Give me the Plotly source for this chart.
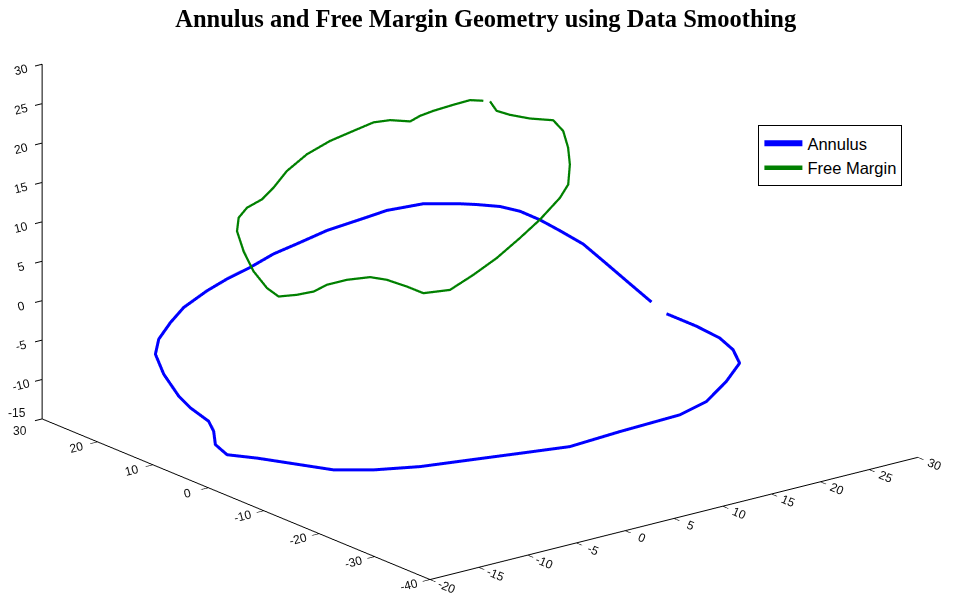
import plotly.graph_objects as go

# Annulus (open ends where the reference shows a gap)
annulus_x = [22.97, 23.39, 24.22, 25.03, 25.14, 24.63, 22.32, 19.41, 16.50, 10.94, 6.23, 2.14, -1.95, -6.05,
             -9.66, -12.54, -15.18, -17.21, -19.12, -19.22, -18.36, -17.99, -18.32, -18.30, -17.78, -16.91,
             -15.56, -13.49, -11.43, -8.51, -6.20, -3.67, -1.00, 1.42, 4.57, 8.43, 10.37, 13.50, 16.14, 17.29,
             18.83, 19.92, 20.73, 21.38, 22.08, 22.28, 22.50, 22.75]
annulus_y = [-7.01, -8.07, -10.21, -12.97, -15.19, -17.29, -18.95, -20.49, -20.79, -19.76, -19.04, -17.25, -15.44,
             -13.64, -11.58, -9.45, -6.28, -3.86, -1.82, 0.11, 1.93, 3.49, 6.19, 8.34, 11.96, 15.00, 16.77, 18.30,
             19.54, 20.46, 20.92, 21.18, 21.68, 21.73, 21.86, 21.45, 21.26, 20.18, 18.22, 17.24, 15.74, 14.06,
             11.88, 9.42, 6.45, 3.21, -0.63, -4.69]
annulus_z = [-4.21, -4.55, -5.24, -6.18, -7.05, -7.99, -9.12, -10.31, -11.02, -11.72, -12.37, -12.47, -12.57,
             -12.67, -12.57, -12.29, -11.55, -10.98, -10.55, -9.80, -8.90, -8.20, -7.19, -6.33, -4.77, -3.38,
             -2.40, -1.38, -0.47, 0.48, 1.13, 1.74, 2.47, 2.98, 3.66, 4.27, 4.58, 4.77, 4.52, 4.35, 4.06, 3.61,
             2.90, 2.04, 0.99, -0.26, -1.75, -3.33]

# Free margin
margin_x = [14.25, 14.03, 14.70, 15.87, 17.43, 17.36, 16.49, 15.38, 13.79, 12.21, 9.16, 6.37, 3.22, 0.30, -2.49,
            -4.66, -5.36, -6.31, -7.32, -9.19, -11.00, -12.46, -13.90, -15.35, -15.57, -15.31, -14.56, -13.56,
            -12.45, -11.11, -9.42, -7.72, -5.53, -2.85, -0.19, 2.23, 4.29, 5.66, 7.01, 8.14, 9.47, 11.35,
            12.90, 13.81]
margin_y = [9.48, 7.90, 6.67, 5.13, 3.67, 1.75, -0.67, -2.94, -5.44, -6.73, -8.48, -9.79, -11.15, -12.07, -12.77,
            -11.78, -10.04, -8.10, -6.86, -5.97, -5.55, -5.71, -5.25, -4.49, -2.78, 0.09, 3.22, 6.17, 7.83, 8.68,
            8.96, 9.86, 11.30, 12.40, 12.89, 12.95, 12.97, 12.38, 11.14, 11.34, 11.28, 10.99, 10.71, 9.91]
margin_z = [20.64, 19.97, 19.61, 19.23, 18.95, 18.17, 17.03, 15.90, 14.58, 13.75, 12.44, 11.36, 10.19, 9.23, 8.39,
            8.36, 8.91, 9.50, 9.79, 9.77, 9.58, 9.22, 9.12, 9.13, 9.77, 10.97, 12.38, 13.76, 14.64, 15.25, 15.70,
            16.40, 17.42, 18.39, 19.12, 19.62, 20.05, 20.08, 19.86, 20.16, 20.40, 20.67, 20.86, 20.73]

x_ticks = [-20, -15, -10, -5, 0, 5, 10, 15, 20, 25, 30]
y_ticks = [-40, -30, -20, -10, 0, 10, 20, 30]
z_ticks = [-15, -10, -5, 0, 5, 10, 15, 20, 25, 30]

TICKFONT = dict(family="Liberation Sans, Arial", size=12, color="#111")

fig = go.Figure()
fig.add_trace(go.Scatter3d(x=annulus_x, y=annulus_y, z=annulus_z, mode="lines",
                           line=dict(color="rgb(0,0,255)", width=6), name="Annulus"))
fig.add_trace(go.Scatter3d(x=margin_x, y=margin_y, z=margin_z, mode="lines",
                           line=dict(color="rgb(0,128,0)", width=4.5), name="Free Margin"))

def axis(rng, ticks, hide=None):
    text = ["" if t == hide else str(t) for t in ticks]
    return dict(range=[rng[0], rng[1]], tickvals=ticks, ticktext=text,
                showbackground=False, showgrid=False, zeroline=False, showline=True,
                linecolor="black", linewidth=2, ticks="outside", ticklen=9, tickwidth=2,
                tickcolor="black", showspikes=False, title=dict(text=""), tickfont=TICKFONT)

# the two labels that meet at the left corner are placed apart, as in the reference
corner_labels = [
    dict(x=x_ticks[0], y=y_ticks[-1], z=z_ticks[0], text=str(z_ticks[0]), xshift=-25, yshift=6),
    dict(x=x_ticks[0], y=y_ticks[-1], z=z_ticks[0], text=str(y_ticks[-1]), xshift=-22, yshift=-12),
]
for a in corner_labels:
    a.update(showarrow=False, font=TICKFONT)

d = (-0.581, -0.747, 0.322)
k = 2.0
c = (0.0, 0.0, -0.135)
fig.update_layout(
    width=960, height=598, paper_bgcolor="white", plot_bgcolor="white",
    margin=dict(l=0, r=0, t=0, b=0),
    title=dict(text="<b>Annulus and Free Margin Geometry using Data Smoothing</b>",
               x=0.506, xanchor="center", y=0.97, yanchor="middle",
               font=dict(family="Liberation Serif, Times New Roman", size=24.5, color="black")),
    scene=dict(
        domain=dict(x=[0, 1], y=[0, 1]),
        xaxis=axis((-20, 30), x_ticks),
        yaxis=axis((-40, 30), y_ticks, hide=y_ticks[-1]),
        zaxis=axis((-15, 30), z_ticks, hide=z_ticks[0]),
        aspectmode="manual", aspectratio=dict(x=2.067, y=2.113, z=1.253),
        camera=dict(projection=dict(type="orthographic"),
                    eye=dict(x=c[0] + d[0] * k, y=c[1] + d[1] * k, z=c[2] + d[2] * k),
                    up=dict(x=0, y=0, z=1), center=dict(x=c[0], y=c[1], z=c[2])),
        annotations=corner_labels,
    ),
    legend=dict(x=0.79, y=0.791, xanchor="left", yanchor="top", bgcolor="white",
                bordercolor="black", borderwidth=1, itemwidth=38,
                font=dict(family="Liberation Sans, Arial", size=16.5, color="black")),
)
fig.write_html("out.html", config={"displayModeBar": False})
